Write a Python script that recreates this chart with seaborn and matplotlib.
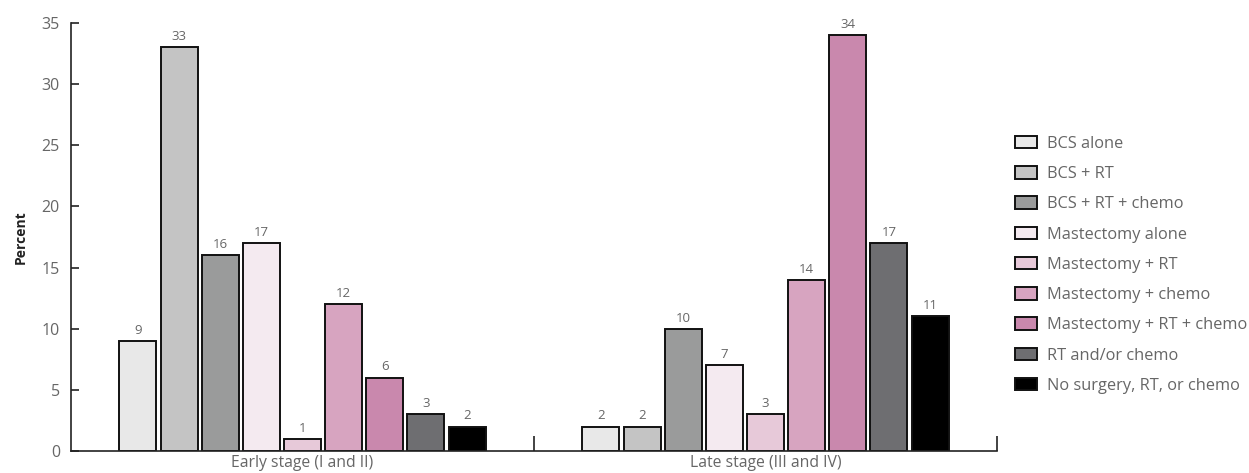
import matplotlib
matplotlib.use("Agg")
import matplotlib.pyplot as plt
import seaborn as sns
import pandas as pd

stages = ["Early stage (I and II)", "Late stage (III and IV)"]
treatments = [
    "BCS alone",
    "BCS + RT",
    "BCS + RT + chemo",
    "Mastectomy alone",
    "Mastectomy + RT",
    "Mastectomy + chemo",
    "Mastectomy + RT + chemo",
    "RT and/or chemo",
    "No surgery, RT, or chemo",
]
early_pct = [9, 33, 16, 17, 1, 12, 6, 3, 2]
late_pct = [2, 2, 10, 7, 3, 14, 34, 17, 11]
colors = ["#E8E8E8", "#C4C4C4", "#9A9B9B", "#F4EAF0", "#E7C9D9",
          "#D7A4C0", "#C988AD", "#6E6E71", "#000000"]

df = pd.DataFrame({
    "stage": [stages[0]] * len(treatments) + [stages[1]] * len(treatments),
    "treatment": treatments * 2,
    "percent": early_pct + late_pct,
})

sns.set_theme(style="white")
plt.rcParams["font.family"] = ["Open Sans", "DejaVu Sans"]

fig = plt.figure(figsize=(12.49, 4.73), dpi=100)
ax = fig.add_axes([71 / 1249, 22 / 473, 926 / 1249, 428 / 473])

sns.barplot(data=df, x="stage", y="percent", hue="treatment",
            hue_order=treatments, order=stages, palette=colors,
            edgecolor="#111111", linewidth=1.4, gap=0.1, width=0.8,
            saturation=1, ax=ax)

for cont in ax.containers:
    ax.bar_label(cont, fmt="%g", padding=3, fontsize=9.5, color="#666666")

ax.set_xlim(-0.5, 1.5)
ax.set_ylim(0, 35)
ax.set_yticks(range(0, 36, 5))
ax.set_xlabel("")
ax.set_ylabel("Percent", fontsize=10, fontweight="bold", color="#222222", labelpad=10)

sns.despine(ax=ax)
for s in ("left", "bottom"):
    ax.spines[s].set_color("#222222")
    ax.spines[s].set_linewidth(1.2)

ax.tick_params(axis="y", direction="in", length=6, width=1.2, color="#222222",
               labelsize=11.5, labelcolor="#666666", pad=8, left=True)
ax.tick_params(axis="x", which="major", length=0, labelsize=11.3,
               labelcolor="#666666", pad=3)
ax.set_xticks([0.5, 1.5], minor=True)
ax.tick_params(axis="x", which="minor", direction="in", length=11, width=1.2,
               color="#222222", bottom=True)

leg = ax.legend(loc="upper left", bbox_to_anchor=(1000 / 1249, 1 - 121 / 473),
                bbox_transform=fig.transFigure, frameon=False, fontsize=11.8,
                labelspacing=0.87, handlelength=1.34, handleheight=0.8,
                handletextpad=0.61)
for t in leg.get_texts():
    t.set_color("#666666")

fig.savefig("out.png", dpi=100)
